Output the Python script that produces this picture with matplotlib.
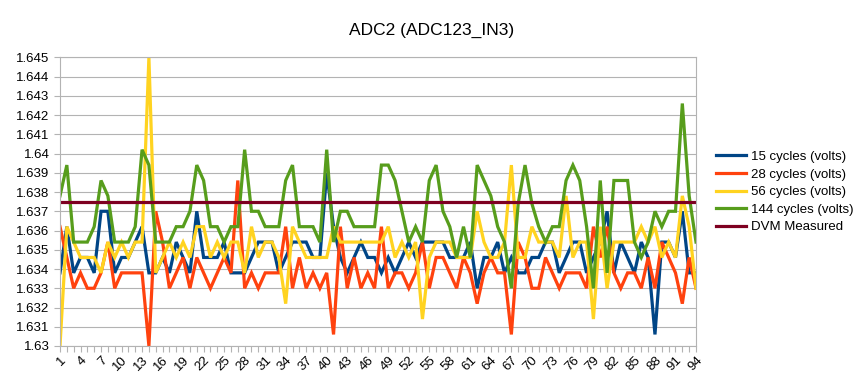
import numpy as np
import matplotlib
matplotlib.use("Agg")
import matplotlib.pyplot as plt

plt.rcParams['font.family'] = ['Liberation Sans', 'DejaVu Sans']

title = "ADC2 (ADC123_IN3)"
samples = list(range(1, 95))

cycles_15 = [
    1.6338, 1.6362, 1.6338, 1.6346, 1.6346, 1.6338, 1.6370, 1.6370, 1.6338, 1.6346,
    1.6346, 1.6354, 1.6362, 1.6338, 1.6338, 1.6346, 1.6338, 1.6354, 1.6346, 1.6338,
    1.6370, 1.6346, 1.6346, 1.6346, 1.6354, 1.6338, 1.6338, 1.6338, 1.6346, 1.6354,
    1.6354, 1.6354, 1.6338, 1.6346, 1.6354, 1.6354, 1.6354, 1.6346, 1.6346, 1.6390,
    1.6362, 1.6346, 1.6338, 1.6346, 1.6354, 1.6346, 1.6346, 1.6338, 1.6346, 1.6338,
    1.6346, 1.6354, 1.6346, 1.6354, 1.6354, 1.6354, 1.6354, 1.6346, 1.6346, 1.6346,
    1.6354, 1.6330, 1.6346, 1.6346, 1.6354, 1.6338, 1.6346, 1.6338, 1.6338, 1.6346,
    1.6346, 1.6354, 1.6354, 1.6338, 1.6346, 1.6354, 1.6354, 1.6338, 1.6346, 1.6354,
    1.6370, 1.6338, 1.6354, 1.6346, 1.6338, 1.6354, 1.6346, 1.6306, 1.6354, 1.6354,
    1.6346, 1.6370, 1.6338, 1.6338]

cycles_28 = [
    1.6362, 1.6346, 1.6330, 1.6338, 1.6330, 1.6330, 1.6338, 1.6354, 1.6330, 1.6338,
    1.6338, 1.6338, 1.6338, 1.6300, 1.6370, 1.6354, 1.6330, 1.6338, 1.6346, 1.6330,
    1.6346, 1.6338, 1.6330, 1.6338, 1.6346, 1.6338, 1.6386, 1.6330, 1.6338, 1.6330,
    1.6338, 1.6338, 1.6338, 1.6362, 1.6330, 1.6346, 1.6330, 1.6338, 1.6330, 1.6338,
    1.6306, 1.6362, 1.6330, 1.6346, 1.6330, 1.6338, 1.6330, 1.6362, 1.6330, 1.6338,
    1.6338, 1.6330, 1.6338, 1.6354, 1.6330, 1.6346, 1.6346, 1.6338, 1.6330, 1.6346,
    1.6338, 1.6322, 1.6338, 1.6346, 1.6338, 1.6338, 1.6306, 1.6354, 1.6346, 1.6330,
    1.6330, 1.6346, 1.6338, 1.6330, 1.6338, 1.6338, 1.6338, 1.6330, 1.6362, 1.6346,
    1.6362, 1.6338, 1.6330, 1.6338, 1.6338, 1.6330, 1.6346, 1.6330, 1.6354, 1.6346,
    1.6338, 1.6322, 1.6346, 1.6330]

cycles_56 = [
    1.6300, 1.6362, 1.6354, 1.6346, 1.6346, 1.6346, 1.6338, 1.6354, 1.6346, 1.6354,
    1.6346, 1.6354, 1.6354, 1.6450, 1.6338, 1.6346, 1.6354, 1.6346, 1.6354, 1.6346,
    1.6362, 1.6362, 1.6346, 1.6354, 1.6346, 1.6354, 1.6354, 1.6338, 1.6362, 1.6346,
    1.6354, 1.6354, 1.6346, 1.6322, 1.6362, 1.6354, 1.6346, 1.6346, 1.6346, 1.6346,
    1.6362, 1.6354, 1.6354, 1.6354, 1.6354, 1.6354, 1.6354, 1.6354, 1.6362, 1.6346,
    1.6354, 1.6346, 1.6354, 1.6314, 1.6346, 1.6354, 1.6354, 1.6354, 1.6346, 1.6346,
    1.6346, 1.6370, 1.6354, 1.6346, 1.6346, 1.6354, 1.6394, 1.6346, 1.6346, 1.6362,
    1.6354, 1.6354, 1.6354, 1.6346, 1.6378, 1.6346, 1.6354, 1.6354, 1.6314, 1.6362,
    1.6330, 1.6354, 1.6354, 1.6354, 1.6354, 1.6362, 1.6354, 1.6362, 1.6346, 1.6354,
    1.6346, 1.6378, 1.6362, 1.6330]

cycles_144 = [
    1.6378, 1.6394, 1.6354, 1.6354, 1.6354, 1.6362, 1.6386, 1.6378, 1.6354, 1.6354,
    1.6354, 1.6362, 1.6402, 1.6394, 1.6354, 1.6354, 1.6354, 1.6362, 1.6362, 1.6370,
    1.6394, 1.6386, 1.6362, 1.6362, 1.6354, 1.6362, 1.6362, 1.6402, 1.6370, 1.6370,
    1.6362, 1.6362, 1.6362, 1.6386, 1.6394, 1.6362, 1.6362, 1.6362, 1.6354, 1.6402,
    1.6354, 1.6370, 1.6370, 1.6362, 1.6362, 1.6362, 1.6362, 1.6394, 1.6394, 1.6386,
    1.6370, 1.6354, 1.6362, 1.6354, 1.6386, 1.6394, 1.6370, 1.6362, 1.6346, 1.6362,
    1.6346, 1.6394, 1.6386, 1.6378, 1.6362, 1.6354, 1.6330, 1.6374, 1.6394, 1.6374,
    1.6362, 1.6354, 1.6362, 1.6362, 1.6386, 1.6394, 1.6386, 1.6362, 1.6330, 1.6386,
    1.6338, 1.6386, 1.6386, 1.6386, 1.6354, 1.6346, 1.6354, 1.6370, 1.6362, 1.6370,
    1.6370, 1.6426, 1.6378, 1.6354]

dvm_measured = 1.6375

series = [
    ("15 cycles (volts)", cycles_15, "#004586"),
    ("28 cycles (volts)", cycles_28, "#ff420e"),
    ("56 cycles (volts)", cycles_56, "#ffd320"),
    ("144 cycles (volts)", cycles_144, "#579d1c"),
    ("DVM Measured", [dvm_measured] * len(samples), "#7e0021"),
]

fig = plt.figure(figsize=(8.64, 3.84), dpi=100)
ax = fig.add_axes([60 / 864, 1 - 346 / 384, 636 / 864, (346 - 57.3) / 384])

for name, vals, col in series:
    ax.plot(samples, vals, color=col, lw=2.3, label=name, solid_joinstyle="miter")

ax.set_xlim(1, 94)
ax.set_ylim(1.630, 1.645)

yt = np.round(np.arange(1.630, 1.6451, 0.001), 3)
ax.set_yticks(yt)
ax.set_yticklabels([f"{v:g}" for v in yt])
ax.set_xticks(samples)
ax.set_xticklabels([str(s) if (s - 1) % 3 == 0 else "" for s in samples],
                   rotation=45, ha="right", rotation_mode="anchor")

ax.grid(axis="y", color="#b3b3b3", lw=0.8)
ax.set_axisbelow(True)
for sp in ax.spines.values():
    sp.set_color("#b3b3b3")
    sp.set_linewidth(0.8)
ax.tick_params(axis="both", colors="#b3b3b3", labelcolor="black", labelsize=9.5,
               length=4, width=0.8)
ax.tick_params(axis="x", pad=2)

fig.text(0.5, 1 - 30 / 384, title, ha="center", va="center", fontsize=12.5)

fig.legend(loc="center left", bbox_to_anchor=(716 / 864, 1 - 192 / 384),
           frameon=False, fontsize=9.5, handlelength=2.3, handletextpad=0.35,
           labelspacing=0.4, borderpad=0, borderaxespad=0)

fig.savefig("out.png", dpi=100)
